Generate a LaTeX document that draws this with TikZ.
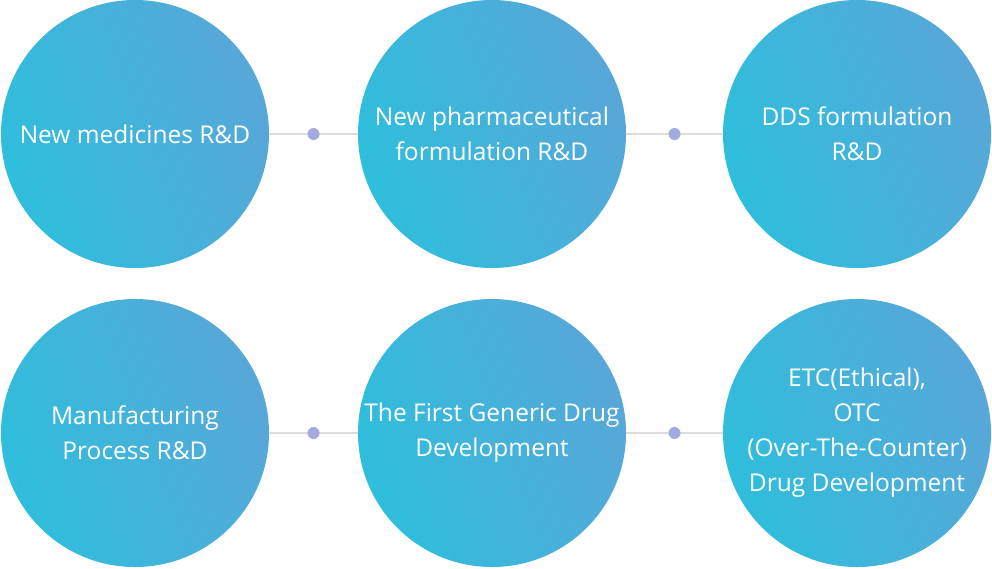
\documentclass[tikz,border=0pt]{standalone}
\usepackage{fontspec}
\setmainfont{Open Sans}
\definecolor{cyanL}{HTML}{2FBEDC}
\definecolor{blueR}{HTML}{58A7D8}
\definecolor{linegray}{HTML}{DCDCDC}
\definecolor{dotcol}{HTML}{A2AADF}
\tikzset{
  bubble/.style={circle, minimum size=268pt, inner sep=0pt, left color=cyanL, right color=blueR, shading angle=110,
    text=white, align=center, font=\fontsize{24.5pt}{35pt}\selectfont},
  link/.style={draw=linegray, line width=1.3pt},
  dotmark/.style={circle, fill=dotcol, minimum size=12pt, inner sep=0pt}
}
\begin{document}
\begin{tikzpicture}[x=1pt,y=-1pt]
\useasboundingbox (0,0) rectangle (992,568);
\node[bubble] (c1) at (135,134) {New medicines R\&D};
\node[bubble] (c2) at (492,134) {New pharmaceutical\\formulation R\&D};
\node[bubble] (c3) at (857,134) {DDS formulation\\R\&D};
\node[bubble] (c4) at (135,433) {Manufacturing\\Process R\&D};
\node[bubble] (c5) at (492,433) {The First Generic Drug\\Development};
\node[bubble] (c6) at (857,433) {ETC(Ethical),\\OTC\\(Over-The-Counter)\\Drug Development};
\draw[link] (c1.east) -- node[dotmark] (d1) {} (c2.west);
\draw[link] (c2.east) -- node[dotmark] (d2) {} (c3.west);
\draw[link] (c4.east) -- node[dotmark] (d3) {} (c5.west);
\draw[link] (c5.east) -- node[dotmark] (d4) {} (c6.west);
\end{tikzpicture}
\end{document}
